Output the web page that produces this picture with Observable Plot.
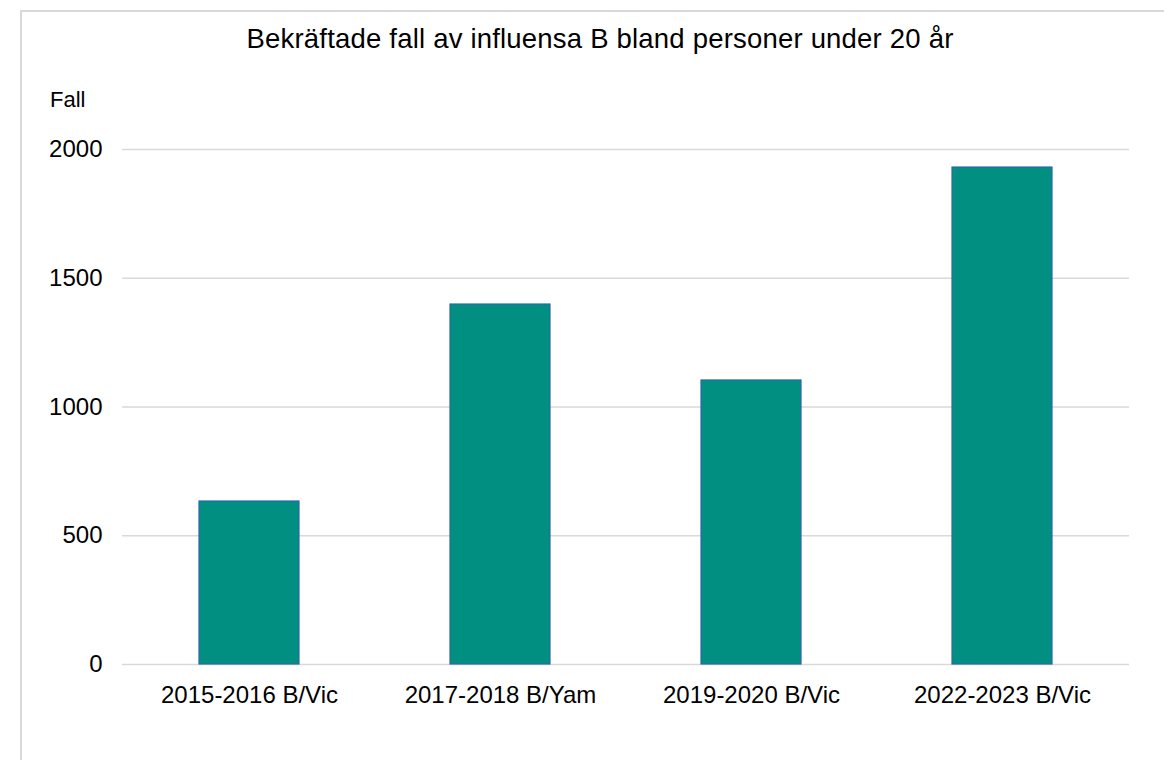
<!DOCTYPE html>
<html>
<head>
<meta charset="utf-8">
<script src="https://cdn.jsdelivr.net/npm/d3@7"></script>
<script src="https://cdn.jsdelivr.net/npm/@observablehq/plot@0.6"></script>
<style>
  html, body { margin: 0; padding: 0; background: #fff; width: 1164px; height: 760px; overflow: hidden; }
  body { position: relative; font-family: "Liberation Sans", Arial, sans-serif; color: #000; }
  #frame { position: absolute; left: 20px; top: 10px; width: 1200px; height: 800px; border: 2px solid #d9d9d9; box-sizing: border-box; }
  #title { position: absolute; left: 20px; width: 1160px; top: 25px; text-align: center; font-size: 27.5px; letter-spacing: 0.2px; line-height: 1; white-space: nowrap; }
  #ylabel { position: absolute; left: 50px; top: 89px; font-size: 22px; line-height: 1; }
  #chart { position: absolute; left: 0; top: 0; }
</style>
</head>
<body>
<div id="frame"></div>
<div id="chart"></div>
<div id="title">Bekräftade fall av influensa B bland personer under 20 år</div>
<div id="ylabel">Fall</div>
<script>
const categories = ["2015-2016 B/Vic", "2017-2018 B/Yam", "2019-2020 B/Vic", "2022-2023 B/Vic"];
const values = [633, 1398, 1103, 1930];
const yTicks = [0, 500, 1000, 1500, 2000];

const data = categories.map((c, i) => ({cat: c, value: values[i]}));

const chart = Plot.plot({
  width: 1164,
  height: 760,
  marginTop: 149,
  marginBottom: 96,
  marginLeft: 122,
  marginRight: 35,
  x: {domain: categories, paddingInner: 0.6, paddingOuter: 0.3, label: null},
  y: {domain: [0, 2000], label: null},
  style: {fontFamily: "'Liberation Sans', Arial, sans-serif", fontSize: "24px", color: "#000", background: "transparent", overflow: "visible"},
  marks: [
    Plot.gridY(yTicks, {stroke: "#d9d9d9", strokeOpacity: 1, strokeWidth: 1.5}),
    Plot.barY(data, {x: "cat", y: "value", fill: "#008f80", stroke: "#2a68a8", strokeWidth: 1.2}),
    Plot.axisY(yTicks, {tickSize: 0, tickPadding: 20, fontSize: 24, tickFormat: d => String(d), label: null}),
    Plot.axisX({tickSize: 0, tickPadding: 21, fontSize: 24, label: null})
  ]
});
document.getElementById("chart").appendChild(chart);
</script>
</body>
</html>
